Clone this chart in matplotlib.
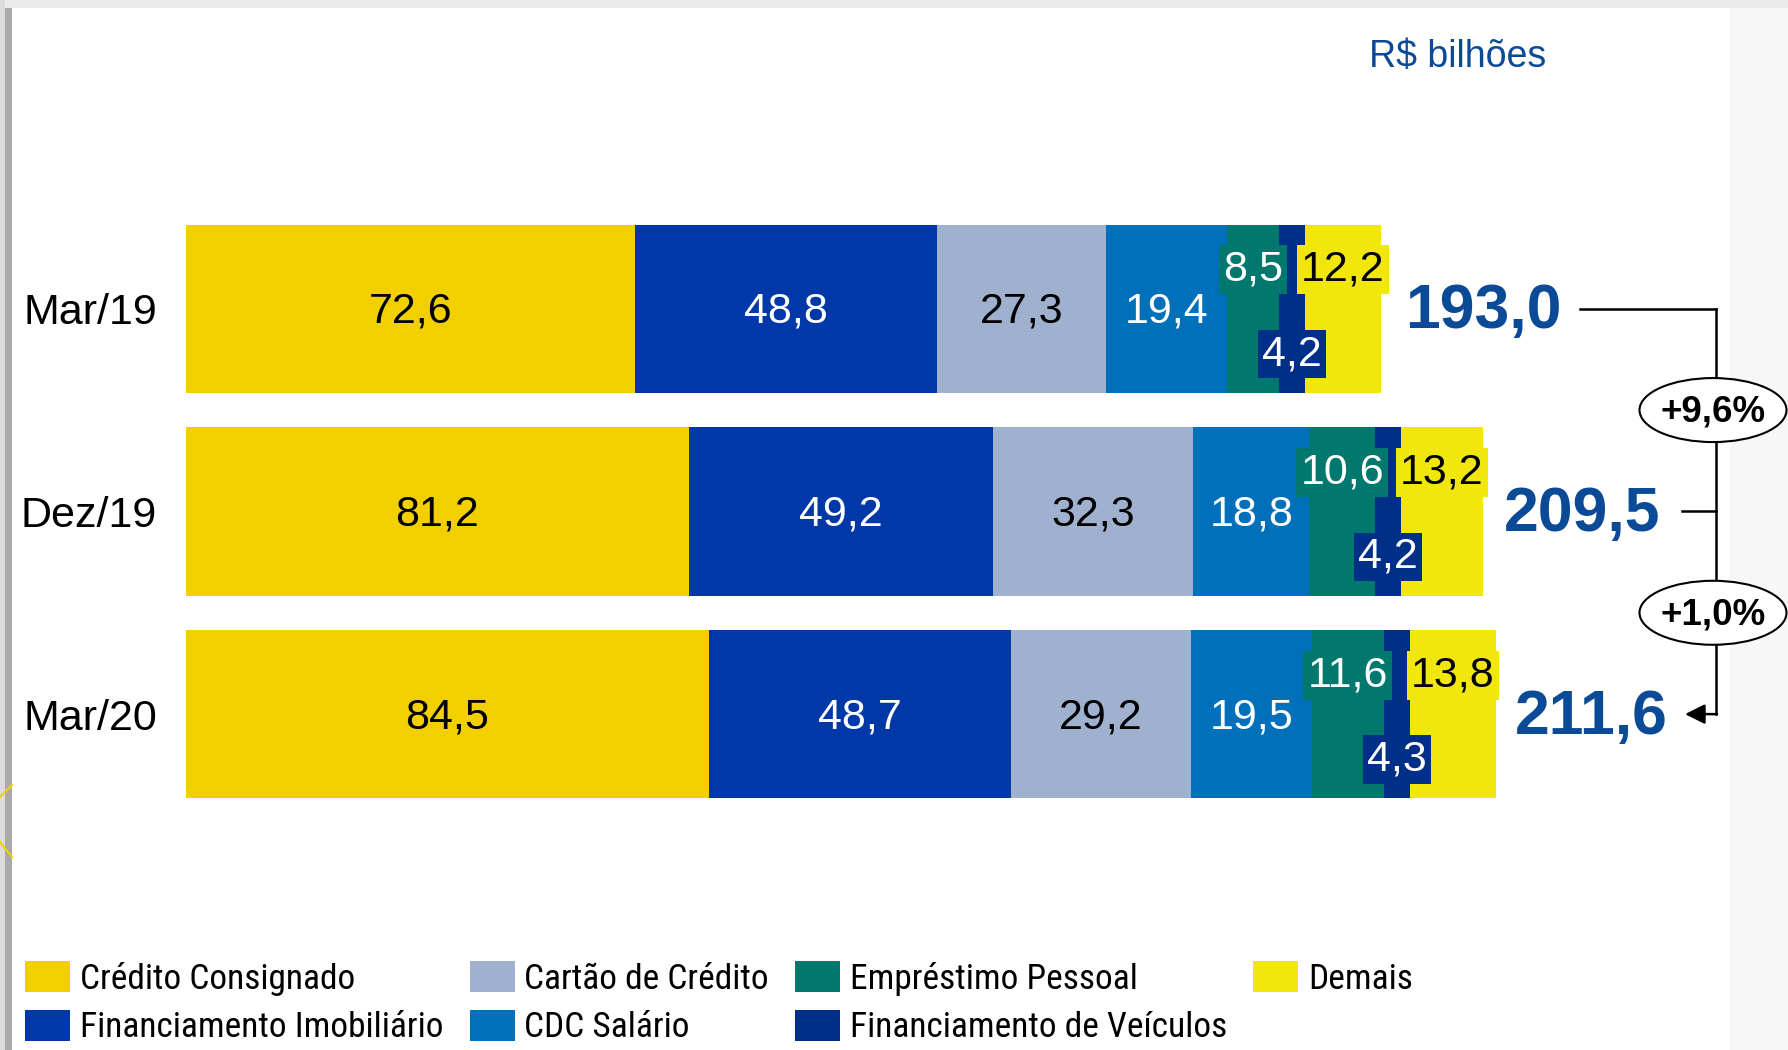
import matplotlib
matplotlib.use('Agg')
import matplotlib.pyplot as plt
from matplotlib import font_manager
from matplotlib.font_manager import FontProperties
from matplotlib.patches import Patch, Rectangle, Ellipse
from matplotlib.lines import Line2D

# Data (R$ bilhões)
periods = ['Mar/19', 'Dez/19', 'Mar/20']
consignado = [72.6, 81.2, 84.5]
imobiliario = [48.8, 49.2, 48.7]
cartao = [27.3, 32.3, 29.2]
cdc = [19.4, 18.8, 19.5]
pessoal = [8.5, 10.6, 11.6]
veiculos = [4.2, 4.2, 4.3]
demais = [12.2, 13.2, 13.8]
totals = [193.0, 209.5, 211.6]
growth_labels = ['+9,6%', '+1,0%']

segment_names = ['Crédito Consignado', 'Financiamento Imobiliário', 'Cartão de Crédito',
                 'CDC Salário', 'Empréstimo Pessoal', 'Financiamento de Veículos', 'Demais']
series = [consignado, imobiliario, cartao, cdc, pessoal, veiculos, demais]
colors = ['#F2D000', '#0038A8', '#9FB1CF', '#0070BA', '#00786E', '#002F87', '#F2E70C']
text_colors = ['black', 'white', 'black', 'white', 'white', 'white', 'black']
# label placement inside the bar: 0 = centre, -1 = upper, +1 = lower
label_pos = [0, 0, 0, 0, -1, 1, -1]

total_color = '#0A4A96'
font = 'Liberation Sans'
plt.rcParams['font.family'] = [font, 'DejaVu Sans']


def pick_narrow():
    fl = font_manager.fontManager.ttflist
    names = {f.name for f in fl}
    for n in ['Liberation Sans Narrow', 'Arial Narrow', 'Roboto Condensed',
              'Open Sans Condensed', 'Noto Sans Condensed']:
        if n in names:
            return FontProperties(family=n)
    for f in fl:
        if (f.stretch in ('condensed', 'semi-condensed') and f.style == 'normal'
                and str(f.weight) in ('400', 'normal', 'regular', 'book')):
            return FontProperties(fname=f.fname)
    return FontProperties(family=font)


W, H = 1788, 1050
fig = plt.figure(figsize=(W / 100, H / 100), dpi=100)
fig.patch.set_facecolor('white')
renderer = fig.canvas.get_renderer()

# legend font: condensed face, sized so text widths match the slide
leg_fp = pick_narrow()
probe = fig.text(0, 0, 'Financiamento Imobiliário', fontproperties=leg_fp, fontsize=27)
probe_w = probe.get_window_extent(renderer).width
probe.remove()
leg_size = 27 * 363 / probe_w
leg_fp.set_size(leg_size)
em = leg_size * 100 / 72

# slide frame decorations
fig.add_artist(Rectangle((0, 1 - 8 / H), 1, 8 / H, transform=fig.transFigure,
                         color='#ebebeb', lw=0, zorder=-2))
fig.add_artist(Rectangle((0, 0), 5 / W, 1, transform=fig.transFigure,
                         color='#dcdcdc', lw=0, zorder=-1))
fig.add_artist(Rectangle((5 / W, 0), 7 / W, 1 - 8 / H, transform=fig.transFigure,
                         color='#a9a9a9', lw=0, zorder=-1))
fig.add_artist(Rectangle((1730 / W, 0), 58 / W, 1 - 8 / H, transform=fig.transFigure,
                         color='#f7f7f7', lw=0, zorder=-1))
fig.add_artist(Line2D([0, 12 / W], [1 - 797 / H, 1 - 785 / H], transform=fig.transFigure,
                      color='#F2D000', lw=1.5, zorder=-1))
fig.add_artist(Line2D([0, 12 / W], [1 - 842 / H, 1 - 857 / H], transform=fig.transFigure,
                      color='#F2D000', lw=1.5, zorder=-1))

px_per_unit = 6.19
left_px = 186
ax = fig.add_axes([left_px / W, 0, 1 - left_px / W, 1])
ax.patch.set_visible(False)
ax.set_xlim(0, (W - left_px) / px_per_unit)
ax.set_ylim(3.657, -1.523)
for s in ax.spines.values():
    s.set_visible(False)
ax.set_xticks([])
ax.set_yticks(range(len(periods)))
ax.set_yticklabels(periods, fontsize=31)
ax.tick_params(axis='y', length=0, pad=21)

ypos = list(range(len(periods)))
bar_h = 0.83
off = 0.208
dy = 0.016  # nudge so digits sit on the visual centre


def fmt(v):
    return f'{v:.1f}'.replace('.', ',')


lefts = [0.0] * len(periods)
last_labels = []
for k, vals in enumerate(series):
    ax.barh(ypos, vals, left=lefts, height=bar_h, color=colors[k], lw=0)
    for i, v in enumerate(vals):
        cx = lefts[i] + v / 2
        cy = ypos[i] + label_pos[k] * off + dy
        kw = {}
        if label_pos[k] != 0:
            kw['bbox'] = dict(boxstyle='square,pad=0.1', fc=colors[k], ec='none')
        t = ax.text(cx, cy, fmt(v), ha='center', va='center', fontsize=31,
                    color=text_colors[k], **kw)
        if k == len(series) - 1:
            last_labels.append(t)
    lefts = [a + b for a, b in zip(lefts, vals)]

# totals placed to the right of bar end / last label box
fig.canvas.draw()
inv = ax.transData.inverted()
total_texts = []
for i, tot in enumerate(totals):
    bar_end = ax.transData.transform((tot, ypos[i]))[0]
    lab_end = last_labels[i].get_window_extent(renderer).x1 + 5
    x_px = max(bar_end, lab_end) + 15
    x_data = inv.transform((x_px, 0))[0]
    total_texts.append(ax.text(x_data, ypos[i] + dy, fmt(tot), ha='left', va='center',
                               fontsize=45, fontweight='bold', color=total_color))

# connectors
fig.canvas.draw()
blend = ax.get_yaxis_transform()
to_axes = ax.transAxes.inverted()
x_vert = (1716 - left_px) / (W - left_px)
x_tick = (1682 - left_px) / (W - left_px)
x_tip = (1685 - left_px) / (W - left_px)
t0_end = total_texts[0].get_window_extent(renderer).x1
x_start = to_axes.transform((t0_end + 19, 0))[0]
lw = 1.8
ax.plot([x_start, x_vert], [ypos[0], ypos[0]], color='black', lw=lw, transform=blend)
ax.plot([x_vert, x_vert], [ypos[0], ypos[2]], color='black', lw=lw, transform=blend)
ax.plot([x_tick, x_vert], [ypos[1], ypos[1]], color='black', lw=lw, transform=blend)
ax.annotate('', xy=(x_tip, ypos[2]), xytext=(x_vert + 0.0006, ypos[2]),
            xycoords=blend, textcoords=blend,
            arrowprops=dict(arrowstyle='-|>', lw=lw, color='black', mutation_scale=30,
                            shrinkA=0, shrinkB=0))

ell_w = 147 / (W - left_px)
ell_h = 64 / 202.7
ell_x = (1713 - left_px) / (W - left_px)
for j, lab in enumerate(growth_labels):
    yc = (ypos[j] + ypos[j + 1]) / 2
    ax.add_patch(Ellipse((ell_x, yc), ell_w, ell_h, transform=blend, fc='white',
                         ec='black', lw=1.5, zorder=5))
    ax.text(ell_x, yc + 0.01, lab, transform=blend, ha='center', va='center',
            fontsize=26.5, fontweight='bold', color='black', zorder=6)

fig.text(1458 / W, 1 - 57 / H, 'R$ bilhões', ha='center', va='center', fontsize=27,
         color=total_color)

handles = [Patch(facecolor=c, edgecolor='none') for c in colors]
row_h = max(34, 1.16 * em)
fig.legend(handles, segment_names, loc='upper left',
           bbox_to_anchor=(25 / W, 1 - (982 - row_h / 2) / H),
           ncol=4, frameon=False, borderpad=0, borderaxespad=0,
           handlelength=45 / em, handleheight=34 / em, handletextpad=10 / em,
           columnspacing=26 / em, labelspacing=(55 - row_h) / em, prop=leg_fp)

fig.savefig('out.png', dpi=100)
